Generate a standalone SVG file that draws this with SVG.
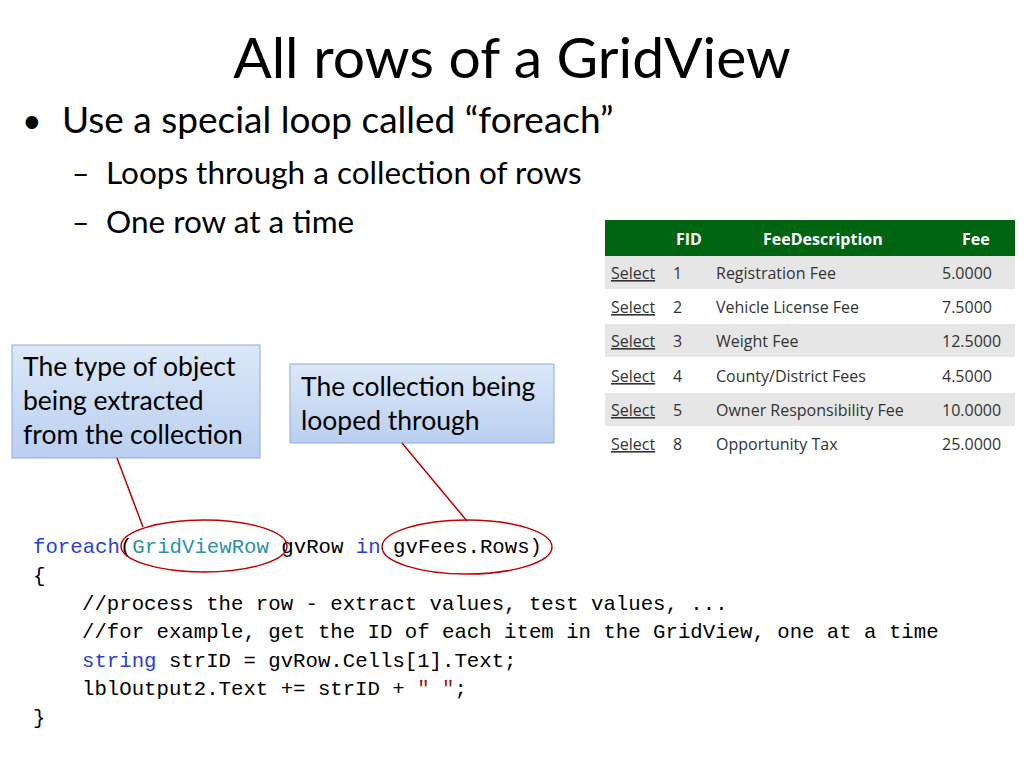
<svg xmlns="http://www.w3.org/2000/svg" width="1024" height="768" viewBox="0 0 1024 768">
<defs>
<linearGradient id="cg" x1="0" y1="0" x2="0" y2="1"><stop offset="0" stop-color="#dce8f8"/><stop offset="1" stop-color="#b9cff0"/></linearGradient>
<style>
.t{font-family:Lato,"Open Sans",sans-serif;fill:#000}
.c{font-family:Lato,"Open Sans",sans-serif;font-size:26.5px;fill:#000}
.g{font-family:"Open Sans",sans-serif;font-size:16px;fill:#333}
.gh{font-family:"Open Sans",sans-serif;font-size:16px;font-weight:bold;fill:#fff}
.m{font-family:"Liberation Mono",monospace;font-size:20.7px;fill:#000}
.box{fill:url(#cg);stroke:#8eaadb;stroke-width:1}
.ln{stroke:#c00000;stroke-width:1.5;fill:none}
</style>
</defs>
<rect width="1024" height="768" fill="#fff"/>
<text class="t" x="512" y="78" font-size="57" text-anchor="middle">All rows of a GridView</text>
<text class="t" x="22" y="133" font-size="34">•</text>
<text class="t" x="62" y="133" font-size="37">Use a special loop called “foreach”</text>
<text class="t" x="72" y="184" font-size="30">–</text>
<text class="t" x="106" y="184" font-size="31.5">Loops through a collection of rows</text>
<text class="t" x="72" y="233" font-size="30">–</text>
<text class="t" x="106" y="233" font-size="31.5">One row at a time</text>
<g id="table">
<rect x="605" y="220" width="410" height="36" fill="#006411"/>
<text class="gh" x="676" y="245">FID</text><text class="gh" x="763" y="245">FeeDescription</text><text class="gh" x="962" y="245">Fee</text>
<rect x="605" y="256" width="410" height="33" fill="#e6e6e6"/>
<rect x="605" y="324" width="410" height="33" fill="#e6e6e6"/>
<rect x="605" y="393" width="410" height="33" fill="#e6e6e6"/>
<g class="g">
<text x="611" y="279" text-decoration="underline">Select</text><text x="673" y="279">1</text><text x="716" y="279">Registration Fee</text><text x="942" y="279">5.0000</text>
<text x="611" y="313" text-decoration="underline">Select</text><text x="673" y="313">2</text><text x="716" y="313">Vehicle License Fee</text><text x="942" y="313">7.5000</text>
<text x="611" y="347" text-decoration="underline">Select</text><text x="673" y="347">3</text><text x="716" y="347">Weight Fee</text><text x="942" y="347">12.5000</text>
<text x="611" y="382" text-decoration="underline">Select</text><text x="673" y="382">4</text><text x="716" y="382">County/District Fees</text><text x="942" y="382">4.5000</text>
<text x="611" y="416" text-decoration="underline">Select</text><text x="673" y="416">5</text><text x="716" y="416">Owner Responsibility Fee</text><text x="942" y="416">10.0000</text>
<text x="611" y="450" text-decoration="underline">Select</text><text x="673" y="450">8</text><text x="716" y="450">Opportunity Tax</text><text x="942" y="450">25.0000</text>
</g>
</g>
<g id="callout1">
<rect class="box" x="12" y="345" width="248" height="113"/>
<text class="c" x="23" y="376">The type of object</text>
<text class="c" x="23" y="410">being extracted</text>
<text class="c" x="23" y="444">from the collection</text>
</g>
<g id="callout2">
<rect class="box" x="290" y="364" width="264" height="79"/>
<text class="c" x="301" y="396">The collection being</text>
<text class="c" x="301" y="430">looped through</text>
</g>
<g id="code">
<text class="m" x="33" y="553"><tspan fill="#2b3fd0">foreach</tspan>(<tspan fill="#2b91af">GridViewRow</tspan> gvRow <tspan fill="#2b3fd0">in</tspan> gvFees.Rows)</text>
<text class="m" x="33" y="582">{</text>
<text class="m" x="82" y="610" fill="#008000">//process the row - extract values, test values, ...</text>
<text class="m" x="82" y="638" fill="#008000">//for example, get the ID of each item in the GridView, one at a time</text>
<text class="m" x="82" y="667"><tspan fill="#2b3fd0">string</tspan> strID = gvRow.Cells[1].Text;</text>
<text class="m" x="82" y="695">lblOutput2.Text += strID + <tspan fill="#a31515">" "</tspan>;</text>
<text class="m" x="33" y="724">}</text>
</g>
<g id="connectors">
<line class="ln" x1="117" y1="458" x2="143" y2="527"/>
<line class="ln" x1="402" y1="443" x2="467" y2="521"/>
<ellipse class="ln" cx="204" cy="546" rx="83" ry="26"/>
<ellipse class="ln" cx="467" cy="547" rx="85" ry="27"/>
</g>
</svg>
